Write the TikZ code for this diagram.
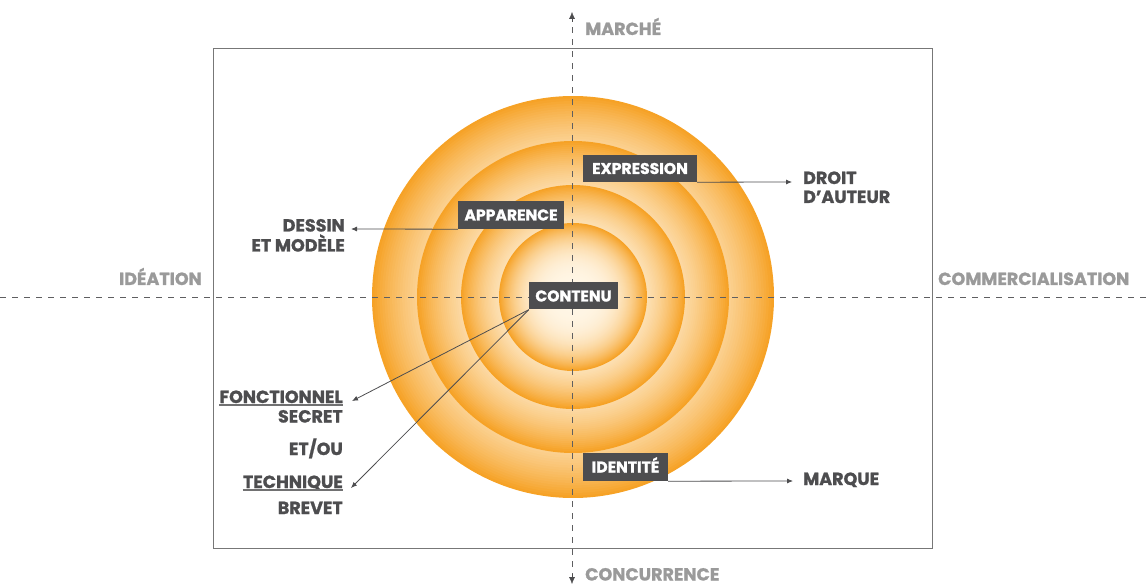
\documentclass[tikz,border=0pt]{standalone}
\usepackage{fontspec}
\setmainfont{Poppins}[BoldFeatures={FakeBold=1.2}]
\usetikzlibrary{arrows.meta}
\definecolor{darkg}{HTML}{4D4D4F}
\definecolor{axisg}{HTML}{9A9A9A}
\definecolor{frameg}{HTML}{777777}
\definecolor{ringor}{HTML}{F6A226}
\definecolor{ringcr}{HTML}{FFF6E6}
\begin{document}
\begin{tikzpicture}[x=1pt,y=-1pt,
  txt/.style={inner sep=0pt, text height=12.3pt, text depth=0pt, font=\fontsize{17.5}{20}\selectfont\bfseries, text=darkg},
  axlab/.style={txt, text=axisg},
  lbox/.style={fill=darkg, inner sep=0pt, text height=11pt, text depth=0pt, font=\fontsize{15.6}{18}\selectfont\bfseries, text=white},
  conn/.style={darkg, line width=0.8pt, -{Latex[length=6pt,width=5pt]}},
  axis/.style={darkg!90, line width=0.9pt, dash pattern=on 6pt off 6pt}
]
\useasboundingbox (0,0) rectangle (1146,585);
% frame
\draw[frameg, line width=0.9pt] (213,48) rectangle (932,548);
% circles (radial gradient, orange rim to cream centre)
\foreach \R in {201,156,112,74}{
  \foreach \i in {0,...,79}{
    \pgfmathsetmacro\t{1-\i/80}
    \pgfmathsetmacro\p{100*\t^3.3}
    \fill[ringor!\p!ringcr] (573,297) circle ({\R*\t pt});
  }
}
% axes
\coordinate (vt) at (572,12);
\coordinate (vb) at (572,584);
\coordinate (hl) at (0,297);
\coordinate (hr) at (1146,297);
\draw[axis] (572,297) -- (vt);
\draw[axis] (572,297) -- (vb);
\draw[axis] (hl) -- (hr);
\draw[darkg, -{Latex[length=7pt,width=6pt]}] (572,22) -- (vt);
\draw[darkg, -{Latex[length=7pt,width=6pt]}] (572,574) -- (vb);
% axis labels
\node[axlab, anchor=base west] (marche) at (585,35) {MARCHÉ};
\node[axlab, anchor=base west] (conc) at (585,580.5) {CONCURRENCE};
\node[axlab, anchor=base east] (idea) at (202,285) {IDÉATION};
\node[axlab, anchor=base west] (comm) at (938,285) {COMMERCIALISATION};
% boxes
\node[lbox, minimum width=114pt, minimum height=27pt] (expr) at (640,168.5) {EXPRESSION};
\node[lbox, minimum width=106pt, minimum height=28pt] (appa) at (511,215) {APPARENCE};
\node[lbox, minimum width=89pt, minimum height=27pt] (cont) at (573.5,296) {CONTENU};
\node[lbox, minimum width=85pt, minimum height=28pt] (iden) at (625.5,467) {IDENTITÉ};
% right labels
\node[txt, anchor=base west] (droit) at (803,184) {DROIT};
\node[txt, anchor=base west] (auteur) at (803,203) {D’AUTEUR};
\node[txt, anchor=base west] (marque) at (803,485) {MARQUE};
% left labels
\node[txt, anchor=base east] (dessin) at (345,231.5) {DESSIN};
\node[txt, anchor=base east] (modele) at (345,251.5) {ET MODÈLE};
\node[txt, anchor=base east] (fonc) at (343,403) {FONCTIONNEL};
\node[txt, anchor=base east] (secret) at (343,422.5) {SECRET};
\node[txt, anchor=base east] (etou) at (343,455) {ET/OU};
\node[txt, anchor=base east] (tech) at (343,488) {TECHNIQUE};
\node[txt, anchor=base east] (brevet) at (343,514) {BREVET};
\draw[darkg!80, line width=1.2pt] ([yshift=-2pt]fonc.base west) -- ([yshift=-2pt]fonc.base east);
\draw[darkg!80, line width=1.2pt] ([yshift=-2pt]tech.base west) -- ([yshift=-2pt]tech.base east);
% connectors
\coordinate (tdroit) at (792,182);
\coordinate (tdessin) at (351,229);
\coordinate (tfonc) at (352,401);
\coordinate (ttech) at (351,488);
\coordinate (tmarque) at (793,481);
\draw[conn] (expr.south east) -- (tdroit);
\draw[conn] (appa.south west) -- (tdessin);
\draw[conn] (cont.south west) -- (tfonc);
\draw[conn] (cont.south west) -- (ttech);
\draw[conn] (iden.south east) -- (tmarque);
\end{tikzpicture}
\end{document}
